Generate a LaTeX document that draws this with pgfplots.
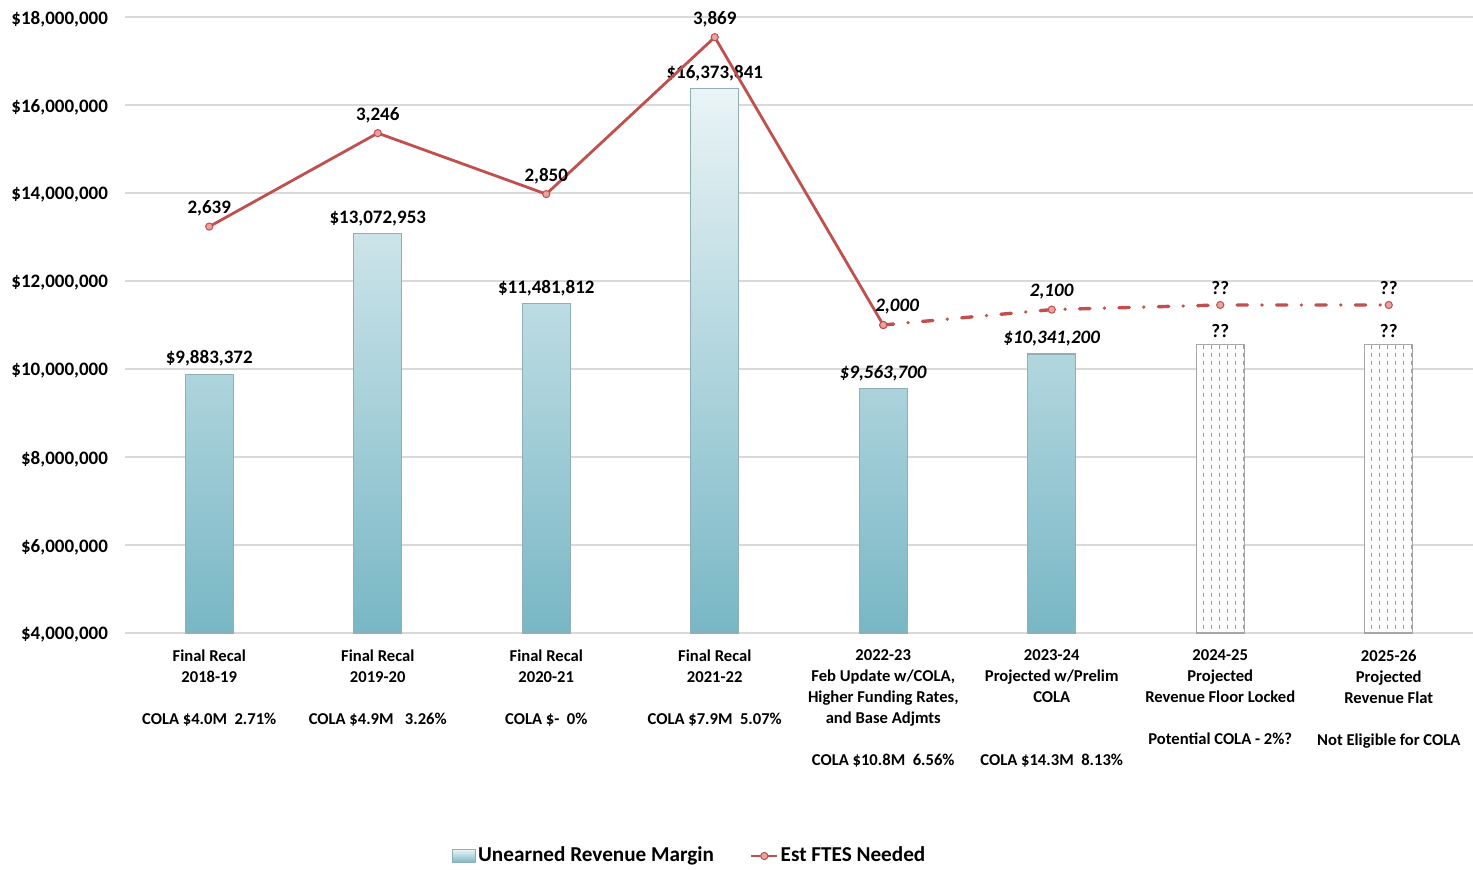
\documentclass[border=0pt]{standalone}
\usepackage{fontspec}
\setmainfont{Carlito}
\usepackage{pgfplots}
\pgfplotsset{compat=1.18}
\usetikzlibrary{patterns}
\definecolor{lineRed}{HTML}{C0504D}
\definecolor{mkFill}{HTML}{E8A3A1}
\definecolor{barTop}{HTML}{EAF4F6}
\definecolor{barBot}{HTML}{78B7C5}
\definecolor{barEdge}{HTML}{8FAEB6}
\definecolor{gridc}{HTML}{D9D9D9}
\pgfdeclarepatternformonly{dashvert}{\pgfqpoint{0pt}{0pt}}{\pgfqpoint{4pt}{4pt}}{\pgfqpoint{4pt}{4pt}}{%
  \pgfsetlinewidth{0.4pt}%
  \pgfpathmoveto{\pgfqpoint{2pt}{0.6pt}}%
  \pgfpathlineto{\pgfqpoint{2pt}{2.9pt}}%
  \pgfusepath{stroke}}
\begin{document}
\begin{tikzpicture}
\begin{axis}[
  scale only axis,
  width=674pt, height=308pt,
  xmin=-0.5, xmax=7.5,
  ymin=4000000, ymax=18000000,
  scaled y ticks=false,
  axis y line*=left, axis x line*=bottom,
  y axis line style={draw=none},
  x axis line style={draw=gridc, line width=0.8pt},
  ymajorgrids, grid style={gridc, line width=0.6pt},
  ytick={4000000,6000000,8000000,10000000,12000000,14000000,16000000,18000000},
  yticklabels={{\$4,000,000},{\$6,000,000},{\$8,000,000},{\$10,000,000},{\$12,000,000},{\$14,000,000},{\$16,000,000},{\$18,000,000}},
  yticklabel style={font=\fontsize{9.5}{11}\selectfont\bfseries, xshift=-5pt, yshift=-1pt},
  xtick={0,1,2,3,4,5,6,7},
  xticklabels={
    {Final Recal\\2018-19\\[10.5pt]COLA \$4.0M\ \ 2.71\%},
    {Final Recal\\2019-20\\[10.5pt]COLA \$4.9M\ \ \ 3.26\%},
    {Final Recal\\2020-21\\[10.5pt]COLA \$-\ \ 0\%},
    {Final Recal\\2021-22\\[10.5pt]COLA \$7.9M\ \ 5.07\%},
    {2022-23\\Feb Update w/COLA,\\Higher Funding Rates,\\and Base Adjmts\\[10.5pt]COLA \$10.8M\ \ 6.56\%},
    {2023-24\\Projected w/Prelim\\COLA\\[21pt]COLA \$14.3M\ \ 8.13\%},
    {2024-25\\Projected\\Revenue Floor Locked\\[10.5pt]Potential COLA - 2\%?},
    {2025-26\\Projected\\Revenue Flat\\[10.5pt]Not Eligible for COLA}},
  xticklabel style={font=\fontsize{8.3}{10.5}\selectfont\bfseries, align=center, yshift=-5pt},
  major tick length=0pt,
  ybar, bar width=24pt,
  legend columns=2,
  legend style={at={(0.419,-0.362)}, anchor=center, draw=none, fill=none,
    font=\fontsize{10.6}{12}\selectfont\bfseries,
    /tikz/every even column/.append style={column sep=17pt},
    nodes={inner xsep=1pt, inner ysep=1pt}},
]
\addplot[ybar, bar shift=0pt, top color=barTop, bottom color=barBot, draw=barEdge, line width=0.6pt,
  forget plot,
  point meta=explicit symbolic, nodes near coords,
  every node near coord/.append style={font=\fontsize{9.5}{11}\selectfont\bfseries, inner sep=0pt, anchor=south, yshift=3.5pt, black}]
  coordinates {
  (0,9883372) [\$9,883,372]
  (1,13072953) [\$13,072,953]
  (2,11481812) [\$11,481,812]
  (3,16373841) [\$16,373,841]
  (4,9563700) [\textit{\$9,563,700}]
  (5,10341200) [\textit{\$10,341,200}]
  };
\addplot[ybar, bar shift=0pt, fill=white, draw=gray!70, line width=0.6pt,
  postaction={pattern=dashvert, pattern color=gray!75},
  forget plot,
  point meta=explicit symbolic, nodes near coords,
  every node near coord/.append style={font=\fontsize{9.5}{11}\selectfont\bfseries, inner sep=0pt, anchor=south, yshift=3.5pt, black}]
  coordinates {
  (6,10550000) [??]
  (7,10550000) [??]
  };
\addlegendimage{area legend, top color=barTop, bottom color=barBot, draw=barEdge, line width=0.4pt,
  legend image code/.code={\path[top color=barTop, bottom color=barBot, draw=barEdge, line width=0.4pt] (0pt,-3.3pt) rectangle (11.5pt,3.3pt);}}
\addlegendentry{Unearned Revenue Margin}
\addlegendimage{legend image code/.code={\draw[lineRed, line width=1.3pt] (0pt,0pt) -- (13pt,0pt);
  \draw[lineRed, fill=mkFill, line width=0.5pt] (6.5pt,0pt) circle (1.8pt);}}
\addlegendentry{Est FTES Needed}
\end{axis}
\begin{axis}[
  scale only axis,
  width=674pt, height=308pt,
  xmin=-0.5, xmax=7.5,
  ymin=0, ymax=4000,
  hide axis,
]
\addplot[lineRed, line width=1.4pt, mark=*, mark size=1.8pt,
  mark options={fill=mkFill, draw=lineRed, line width=0.5pt},
  point meta=explicit symbolic, nodes near coords,
  every node near coord/.append style={font=\fontsize{9.5}{11}\selectfont\bfseries, inner sep=0pt, anchor=south, yshift=5pt, black}]
  coordinates {
  (0,2639) [2,639]
  (1,3246) [3,246]
  (2,2850) [2,850]
  (3,3869) [3,869]
  (4,2000) [\hspace{14pt}\textit{2,000}]
  };
\addplot[lineRed, line width=1.7pt, line cap=round, dash pattern=on 5.2pt off 7.2pt on 0.1pt off 7.2pt,
  mark=*, mark size=1.8pt,
  mark options={solid, fill=mkFill, draw=lineRed, line width=0.5pt},
  point meta=explicit symbolic, nodes near coords,
  every node near coord/.append style={font=\fontsize{9.5}{11}\selectfont\bfseries, inner sep=0pt, anchor=south, yshift=5pt, black}]
  coordinates {
  (4,2000) [\phantom{0}]
  (5,2100) [\textit{2,100}]
  (6,2130) [??]
  (7,2130) [??]
  };
\end{axis}
\pgfresetboundingbox
\path (-62.5pt,-118pt) rectangle (674pt,316.5pt);
\end{tikzpicture}
\end{document}
